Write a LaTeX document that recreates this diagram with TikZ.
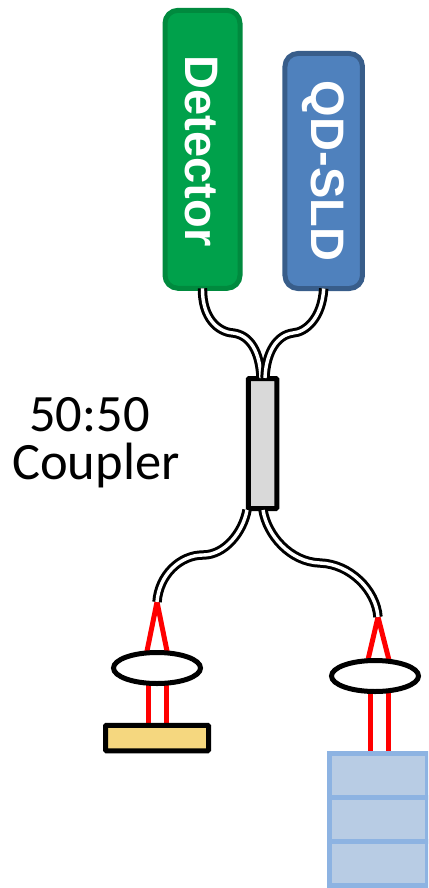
\documentclass[tikz,border=0pt]{standalone}
\usepackage{fontspec}
\setmainfont{Liberation Sans}
\newfontfamily\captionfont{Carlito}
\usetikzlibrary{backgrounds,shapes.geometric}
\definecolor{detgreen}{HTML}{00A14B}
\definecolor{detedge}{HTML}{008A3E}
\definecolor{sldblue}{HTML}{4F81BD}
\definecolor{sldedge}{HTML}{385D8A}
\definecolor{mirrorfill}{HTML}{F5D77F}
\definecolor{stackfill}{HTML}{B8CCE4}
\definecolor{stackedge}{HTML}{8DB3E2}
\tikzset{
  source/.style={draw, line width=5pt, rounded corners=13pt, inner sep=0pt, outer sep=0pt},
  boxlabel/.style={rotate=-90, text=white, font=\fontsize{47}{50}\selectfont\bfseries},
  couplertext/.style={align=center, inner sep=0pt, font=\captionfont\fontsize{52.5}{48}\selectfont},
  optic/.style={draw=black, line width=5pt, inner sep=0pt, outer sep=0pt},
  lens/.style={optic, ellipse, fill=white, minimum width=87pt, minimum height=31pt},
  cell/.style={draw=stackedge, fill=stackfill, line width=5pt, inner sep=0pt, outer sep=0pt,
    minimum width=97.5pt, minimum height=44pt},
  fibre/.style={draw=black, line width=3pt, double=white, double distance=3.4pt},
  beam/.style={draw=red, line width=5pt}
}
\begin{document}
\begin{tikzpicture}[x=1pt, y=-1pt]
  \useasboundingbox (0,0) rectangle (428,888);
  \clip (0,0) rectangle (428,888);

  % Light source and detector
  \node[source, draw=detedge, fill=detgreen, minimum width=75pt, minimum height=278pt] (detector) at (202.5,149.3) {};
  \node[source, draw=sldedge, fill=sldblue, minimum width=77.5pt, minimum height=235pt] (sld) at (323.7,171) {};
  \node[boxlabel] (detectorlabel) at (201,151) {Detector};
  \node[boxlabel] (sldlabel) at (323,171) {QD-SLD};

  % Coupler
  \node[optic, fill=black!15, rounded corners=1pt, minimum width=28.5pt, minimum height=130pt] (coupler) at (262.5,443.5) {};
  \node[couplertext] (couplerlabel) at (96,443) {50:50\hspace*{13pt}\\Coupler};

  % Fibre ends on the coupler and at the lenses
  \coordinate (inL) at (261,378);
  \coordinate (inR) at (265,378);
  \coordinate (outL) at (247,510);
  \coordinate (outR) at (263,510);
  \coordinate (tipL) at (157,602);
  \coordinate (tipR) at (378,617);

  % Fibres
  \draw[fibre] (detector.south) .. controls (202,318) and (218,332) .. (233,333)
    .. controls (250,335) and (260,352) .. (inL);
  \draw[fibre] (sld.south) .. controls (322,318) and (306,332) .. (293,333)
    .. controls (277,335) and (266,352) .. (inR);
  \draw[fibre] (outL) .. controls (243,532) and (225,555) .. (203,555)
    .. controls (180,555) and (159,575) .. (tipL);
  \draw[fibre] (outR) .. controls (267,535) and (290,562) .. (320,563)
    .. controls (350,564) and (376,590) .. (tipR);

  % Lenses, mirror and stack
  \node[lens] (lensL) at (157,668) {};
  \node[lens] (lensR) at (375,676) {};
  \node[optic, fill=mirrorfill, rounded corners=1pt, minimum width=103pt, minimum height=25.5pt] (mirror) at (157,738) {};
  \foreach \name/\ypos in {cellA/775.5, cellB/819.5, cellC/863.5}
    \node[cell] (\name) at (378.5,\ypos) {};

  % Beams behind the lenses
  \begin{pgfonlayer}{background}
    \draw[beam, line join=round] (146,656) -- (tipL) -- (168,656);
    \draw[beam, line join=round] (367,664) -- (tipR) -- (390,664);
    \draw[beam] (148,680) -- (mirror.north -| 148,0);
    \draw[beam] (166,680) -- (mirror.north -| 166,0);
    \draw[beam] (370,688) -- (cellA.north -| 370,0);
    \draw[beam] (388,688) -- (cellA.north -| 388,0);
  \end{pgfonlayer}
\end{tikzpicture}
\end{document}
